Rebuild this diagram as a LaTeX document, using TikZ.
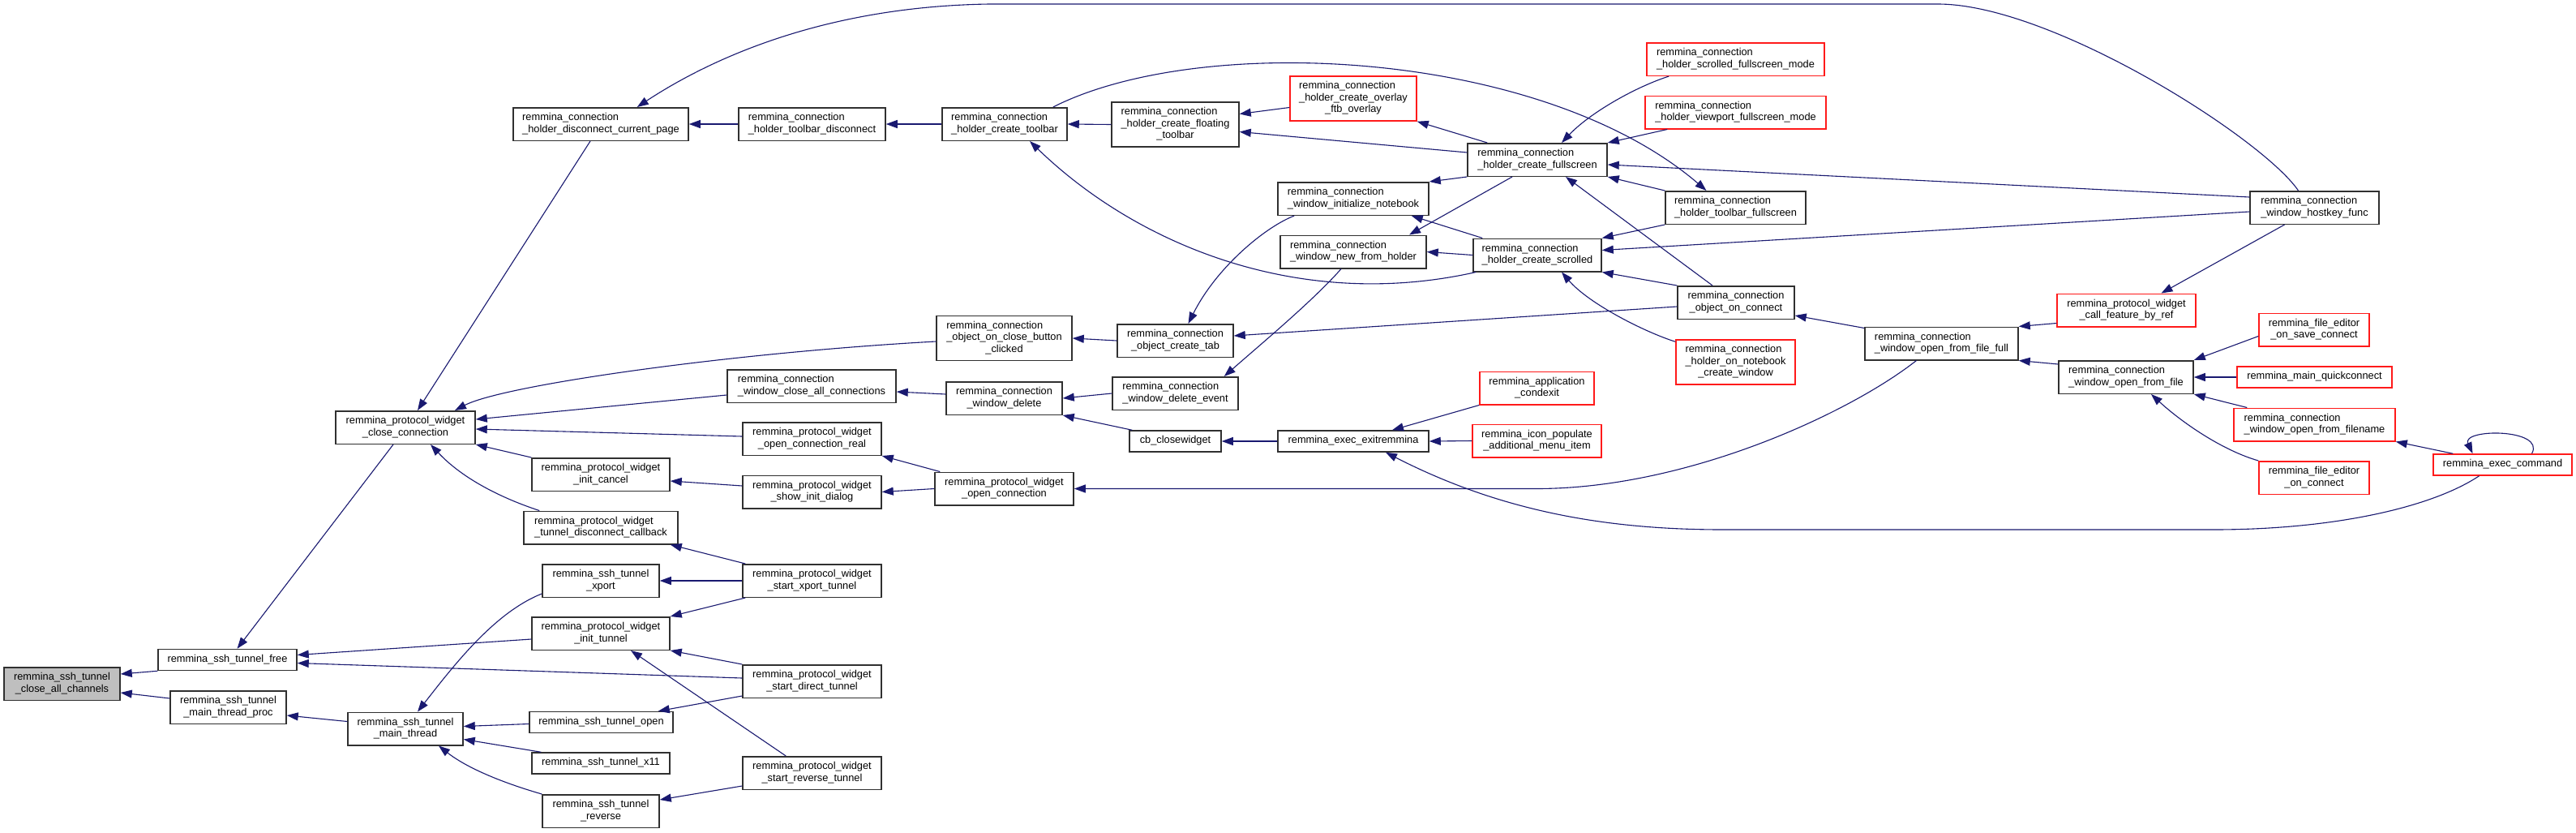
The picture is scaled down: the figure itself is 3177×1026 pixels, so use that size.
\documentclass[tikz,border=0pt]{standalone}
\usepackage{fontspec}
\setmainfont{Liberation Sans}
\usetikzlibrary{arrows.meta}
\definecolor{edgeblue}{HTML}{191970}
\definecolor{boxred}{HTML}{FF1A1A}
\definecolor{boxline}{HTML}{303030}
\definecolor{rootgray}{HTML}{BFBFBF}
\newcommand{\lbli}[1]{\begin{tabular}{@{}c@{}}#1\end{tabular}}
\newcommand{\lblii}[2]{\begin{tabular}{@{}l@{}}#1\\\multicolumn{1}{@{}c@{}}{#2}\end{tabular}}
\newcommand{\lbliii}[3]{\begin{tabular}{@{}l@{}}#1\\#2\\\multicolumn{1}{@{}c@{}}{#3}\end{tabular}}
\tikzset{
 fnbox/.style={draw=boxline, line width=1.5pt, fill=white, inner sep=0pt, font=\fontsize{12.8}{14.5}\selectfont},
 redbox/.style={fnbox, draw=boxred},
 rootbox/.style={fnbox, fill=rootgray},
 hone/.style={minimum height=26pt},
 htwo/.style={minimum height=40.5pt},
 hthree/.style={minimum height=55pt},
 cedge/.style={draw=edgeblue, line width=1.1pt, {Triangle[length=14pt,width=10pt]}-},
}
\begin{document}
\begin{tikzpicture}[x=1pt,y=-1pt]
\fill[white] (0,0) rectangle (3177,1026);
\useasboundingbox (0,0) rectangle (3177,1026);

\node[rootbox,htwo,minimum width=143pt] (root) at (76.5,843) {\lblii{remmina\_ssh\_tunnel}{\_close\_all\_channels}};
\node[fnbox,hone,minimum width=171pt] (free) at (280.5,813.5) {\lbli{remmina\_ssh\_tunnel\_free}};
\node[fnbox,htwo,minimum width=143pt] (mtproc) at (281.5,872) {\lblii{remmina\_ssh\_tunnel}{\_main\_thread\_proc}};
\node[fnbox,htwo,minimum width=172pt] (closeconn) at (500,527) {\lblii{remmina\_protocol\_widget}{\_close\_connection}};
\node[fnbox,htwo,minimum width=142pt] (mthread) at (500,898.5) {\lblii{remmina\_ssh\_tunnel}{\_main\_thread}};
\node[fnbox,htwo,minimum width=216pt] (disccur) at (741,153) {\lblii{remmina\_connection}{\_holder\_disconnect\_current\_page}};
\node[fnbox,htwo,minimum width=170pt] (initcancel) at (741,585) {\lblii{remmina\_protocol\_widget}{\_init\_cancel}};
\node[fnbox,htwo,minimum width=190pt] (tundisc) at (741,650.5) {\lblii{remmina\_protocol\_widget}{\_tunnel\_disconnect\_callback}};
\node[fnbox,htwo,minimum width=144pt] (xport) at (741,716) {\lblii{remmina\_ssh\_tunnel}{\_xport}};
\node[fnbox,htwo,minimum width=170pt] (inittunnel) at (741,781) {\lblii{remmina\_protocol\_widget}{\_init\_tunnel}};
\node[fnbox,hone,minimum width=177pt] (tunopen) at (741.5,890.5) {\lbli{remmina\_ssh\_tunnel\_open}};
\node[fnbox,hone,minimum width=170pt] (tunx11) at (741,941) {\lbli{remmina\_ssh\_tunnel\_x11}};
\node[fnbox,htwo,minimum width=144pt] (tunrev) at (741,1000) {\lblii{remmina\_ssh\_tunnel}{\_reverse}};
\node[fnbox,htwo,minimum width=181pt] (tbdisc) at (1001.5,153) {\lblii{remmina\_connection}{\_holder\_toolbar\_disconnect}};
\node[fnbox,htwo,minimum width=208pt] (closeall) at (1001,476) {\lblii{remmina\_connection}{\_window\_close\_all\_connections}};
\node[fnbox,htwo,minimum width=171pt] (openreal) at (1001.5,541) {\lblii{remmina\_protocol\_widget}{\_open\_connection\_real}};
\node[fnbox,htwo,minimum width=171pt] (showinit) at (1001.5,606.5) {\lblii{remmina\_protocol\_widget}{\_show\_init\_dialog}};
\node[fnbox,htwo,minimum width=171pt] (startx) at (1001.5,716) {\lblii{remmina\_protocol\_widget}{\_start\_xport\_tunnel}};
\node[fnbox,htwo,minimum width=171pt] (startd) at (1001.5,840) {\lblii{remmina\_protocol\_widget}{\_start\_direct\_tunnel}};
\node[fnbox,htwo,minimum width=171pt] (startr) at (1001.5,953) {\lblii{remmina\_protocol\_widget}{\_start\_reverse\_tunnel}};
\node[fnbox,htwo,minimum width=154pt] (ctoolbar) at (1239,153) {\lblii{remmina\_connection}{\_holder\_create\_toolbar}};
\node[fnbox,hthree,minimum width=167pt] (closebtn) at (1238.5,417) {\lbliii{remmina\_connection}{\_object\_on\_close\_button}{\_clicked}};
\node[fnbox,htwo,minimum width=143pt] (wdelete) at (1238.5,491) {\lblii{remmina\_connection}{\_window\_delete}};
\node[fnbox,htwo,minimum width=171pt] (openconn) at (1238.5,602.5) {\lblii{remmina\_protocol\_widget}{\_open\_connection}};
\node[fnbox,hthree,minimum width=157pt] (floating) at (1449.5,153.5) {\lbliii{remmina\_connection}{\_holder\_create\_floating}{\_toolbar}};
\node[fnbox,htwo,minimum width=143pt] (createtab) at (1449.5,420) {\lblii{remmina\_connection}{\_object\_create\_tab}};
\node[fnbox,htwo,minimum width=155pt] (delevent) at (1449.5,485) {\lblii{remmina\_connection}{\_window\_delete\_event}};
\node[fnbox,hone,minimum width=113pt] (cbclose) at (1449.5,544) {\lbli{cb\_closewidget}};
\node[redbox,hthree,minimum width=156pt] (overlay) at (1669,121.5) {\lbliii{remmina\_connection}{\_holder\_create\_overlay}{\_ftb\_overlay}};
\node[fnbox,htwo,minimum width=186pt] (initnb) at (1669,245) {\lblii{remmina\_connection}{\_window\_initialize\_notebook}};
\node[fnbox,htwo,minimum width=180pt] (newholder) at (1669,310.5) {\lblii{remmina\_connection}{\_window\_new\_from\_holder}};
\node[fnbox,hone,minimum width=186pt] (exitrem) at (1669,544) {\lbli{remmina\_exec\_exitremmina}};
\node[fnbox,htwo,minimum width=172pt] (cfull) at (1896,197) {\lblii{remmina\_connection}{\_holder\_create\_fullscreen}};
\node[fnbox,htwo,minimum width=158pt] (cscrolled) at (1896,314.5) {\lblii{remmina\_connection}{\_holder\_create\_scrolled}};
\node[redbox,htwo,minimum width=141pt] (condexit) at (1895.5,478.5) {\lblii{remmina\_application}{\_condexit}};
\node[redbox,htwo,minimum width=159pt] (iconpop) at (1895.5,543.5) {\lblii{remmina\_icon\_populate}{\_additional\_menu\_item}};
\node[redbox,htwo,minimum width=219pt] (scrollfs) at (2140.5,73) {\lblii{remmina\_connection}{\_holder\_scrolled\_fullscreen\_mode}};
\node[redbox,htwo,minimum width=223pt] (viewfs) at (2140.5,138.5) {\lblii{remmina\_connection}{\_holder\_viewport\_fullscreen\_mode}};
\node[fnbox,htwo,minimum width=173pt] (tbfull) at (2140.5,256) {\lblii{remmina\_connection}{\_holder\_toolbar\_fullscreen}};
\node[fnbox,htwo,minimum width=144pt] (onconnect) at (2141,373) {\lblii{remmina\_connection}{\_object\_on\_connect}};
\node[redbox,hthree,minimum width=147pt] (onnotebook) at (2140.5,446.5) {\lbliii{remmina\_connection}{\_holder\_on\_notebook}{\_create\_window}};
\node[fnbox,htwo,minimum width=189pt] (openfull) at (2394.5,423.5) {\lblii{remmina\_connection}{\_window\_open\_from\_file\_full}};
\node[redbox,htwo,minimum width=171pt] (callfeat) at (2622.5,382.5) {\lblii{remmina\_protocol\_widget}{\_call\_feature\_by\_ref}};
\node[fnbox,htwo,minimum width=166pt] (openfile) at (2622,465) {\lblii{remmina\_connection}{\_window\_open\_from\_file}};
\node[fnbox,htwo,minimum width=159pt] (hostkey) at (2854.5,256) {\lblii{remmina\_connection}{\_window\_hostkey\_func}};
\node[redbox,htwo,minimum width=136pt] (saveconn) at (2854,406.5) {\lblii{remmina\_file\_editor}{\_on\_save\_connect}};
\node[redbox,hone,minimum width=191pt] (quick) at (2854.5,465) {\lbli{remmina\_main\_quickconnect}};
\node[redbox,htwo,minimum width=199pt] (openfname) at (2854.5,523.5) {\lblii{remmina\_connection}{\_window\_open\_from\_filename}};
\node[redbox,htwo,minimum width=136pt] (feconnect) at (2854,589) {\lblii{remmina\_file\_editor}{\_on\_connect}};
\node[redbox,hone,minimum width=171pt] (execcmd) at (3086.5,573) {\lbli{remmina\_exec\_command}};

% connectors (arrow tip at the called function)
\draw[cedge] ([yshift=12pt]root.east) -- (free.south west);
\draw[cedge] ([yshift=-11pt]root.east) -- ([yshift=11pt]mtproc.west);
\draw[cedge] ([xshift=12pt]free.north) -- ([xshift=-15pt]closeconn.south);
\draw[cedge] ([yshift=6pt]free.east) -- ([yshift=-7pt]inittunnel.west);
\draw[cedge] ([yshift=-4pt]free.east) -- ([yshift=4pt]startd.west);
\draw[cedge] ([yshift=-10pt]mtproc.east) -- ([yshift=9pt]mthread.west);
\draw[cedge] ([xshift=15pt]closeconn.north) -- ([xshift=-13pt]disccur.south);
\draw[cedge] ([xshift=61pt]closeconn.north) .. controls (620,475) and (900,435) .. ([yshift=-4pt]closebtn.west);
\draw[cedge] ([yshift=10pt]closeconn.east) -- ([yshift=-11pt]closeall.west);
\draw[cedge] ([yshift=-2pt]closeconn.east) -- ([yshift=3pt]openreal.west);
\draw[cedge] (closeconn.south east) -- (initcancel.north west);
\draw[cedge] ([xshift=31pt]closeconn.south) .. controls (575,595) and (630,618) .. ([xshift=20pt]tundisc.north west);
\draw[cedge] (disccur.east) -- (tbdisc.west);
\draw[cedge] ([xshift=-64pt]disccur.north east) .. controls (880,70) and (1020,8) .. (1220,5) -- (2390,5) .. controls (2530,5) and (2790,170) .. ([xshift=-20pt]hostkey.north);
\draw[cedge] (tbdisc.east) -- (ctoolbar.west);
\draw[cedge] (ctoolbar.east) -- (floating.west);
\draw[cedge] ([xshift=-36pt]tbfull.north) .. controls (1900,60) and (1480,40) .. ([xshift=-18pt]ctoolbar.north east);
\draw[cedge] ([xshift=31pt]ctoolbar.south) .. controls (1400,300) and (1600,385) .. ([xshift=4pt]cscrolled.south west);
\draw[cedge] ([yshift=13pt]floating.east) -- ([yshift=-11pt]overlay.west);
\draw[cedge] ([yshift=-9pt]floating.east) -- ([yshift=9pt]cfull.west);
\draw[cedge] (overlay.south east) -- ([xshift=25pt]cfull.north west);
\draw[cedge] ([xshift=30pt]cfull.north) .. controls (1960,140) and (2015,108) .. ([xshift=28pt]scrollfs.south west);
\draw[cedge] (cfull.north east) -- ([xshift=28pt]viewfs.south west);
\draw[cedge] ([yshift=-6pt]cfull.east) -- ([yshift=13pt]hostkey.west);
\draw[cedge] (cfull.south east) -- (tbfull.north west);
\draw[cedge] ([xshift=35pt]cfull.south) -- ([xshift=-29pt]onconnect.north);
\draw[cedge] (initnb.north east) -- (cfull.south west);
\draw[cedge] ([xshift=69pt]newholder.north) -- ([xshift=-31pt]cfull.south);
\draw[cedge] ([xshift=-22pt]initnb.south east) -- ([xshift=12pt]cscrolled.north west);
\draw[cedge] (newholder.east) -- (cscrolled.west);
\draw[cedge] (cscrolled.north east) -- (tbfull.south west);
\draw[cedge] ([yshift=6pt]cscrolled.east) -- ([yshift=-5pt]hostkey.west);
\draw[cedge] (cscrolled.south east) -- (onconnect.north west);
\draw[cedge] ([xshift=30pt]cscrolled.south) .. controls (1960,375) and (2030,410) .. ([yshift=-3pt]onnotebook.north west);
\draw[cedge] ([yshift=5pt]onconnect.south east) -- ([yshift=-2pt]openfull.north west);
\draw[cedge] ([yshift=6pt]createtab.east) -- ([yshift=-5pt]onconnect.west);
\draw[cedge] ([xshift=16pt]createtab.north) .. controls (1500,330) and (1560,280) .. ([xshift=21pt]initnb.south west);
\draw[cedge] ([xshift=-18pt]delevent.north east) .. controls (1560,420) and (1620,370) .. ([xshift=-15pt]newholder.south);
\draw[cedge] (closebtn.east) -- (createtab.west);
\draw[cedge] ([yshift=-7pt]closeall.east) -- ([yshift=5pt]wdelete.west);
\draw[cedge] (wdelete.east) -- (delevent.west);
\draw[cedge] (wdelete.south east) -- ([xshift=4pt]cbclose.north west);
\draw[cedge] (cbclose.east) -- (exitrem.west);
\draw[cedge] ([xshift=48pt]exitrem.north) -- (condexit.south west);
\draw[cedge] (exitrem.east) -- (iconpop.west);
\draw[cedge] ([xshift=40pt]exitrem.south) .. controls (1850,630) and (1980,653) .. (2125,653) -- (2730,653) .. controls (2880,653) and (3000,625) .. ([xshift=-29pt]execcmd.south);
\draw[cedge] (openconn.east) -- (1895,602.5) .. controls (2080,602.5) and (2280,510) .. ([xshift=-31pt]openfull.south);
\draw[cedge] (openreal.south east) -- ([xshift=7pt]openconn.north west);
\draw[cedge] (showinit.east) -- (openconn.west);
\draw[cedge] ([yshift=-8pt]initcancel.east) -- ([yshift=7.5pt]showinit.west);
\draw[cedge] ([xshift=-10pt]tundisc.south east) -- ([xshift=4pt]startx.north west);
\draw[cedge] (xport.east) -- (startx.west);
\draw[cedge] (inittunnel.north east) -- ([xshift=4pt]startx.south west);
\draw[cedge] (inittunnel.south east) -- (startd.north west);
\draw[cedge] ([xshift=-19pt]tunopen.north east) -- ([yshift=3pt]startd.south west);
\draw[cedge] ([xshift=37pt]inittunnel.south) -- ([xshift=54pt]startr.north west);
\draw[cedge] ([yshift=14pt]tunrev.east) -- ([yshift=-16pt]startr.west);
\draw[cedge] ([xshift=15pt]mthread.north) .. controls (560,820) and (610,755) .. ([yshift=-16pt]xport.west);
\draw[cedge] ([yshift=3pt]mthread.east) -- ([yshift=-2pt]tunopen.west);
\draw[cedge] ([yshift=-13pt]mthread.east) -- ([xshift=12pt]tunx11.north west);
\draw[cedge] ([xshift=41pt]mthread.south) .. controls (580,950) and (630,968) .. (tunrev.north west);
\draw[cedge] (openfull.north east) -- ([yshift=-16pt]callfeat.west);
\draw[cedge] ([xshift=43pt]callfeat.north) -- ([xshift=-37pt]hostkey.south);
\draw[cedge] (openfull.south east) -- ([yshift=-5pt]openfile.north west);
\draw[cedge] (openfile.north east) -- ([yshift=-8pt]saveconn.west);
\draw[cedge] (openfile.east) -- (quick.west);
\draw[cedge] (openfile.south east) -- ([xshift=17pt]openfname.north west);
\draw[cedge] ([xshift=31pt]openfile.south) .. controls (2690,520) and (2740,555) .. (feconnect.north west);
\draw[cedge] (openfname.south east) -- ([xshift=25pt]execcmd.north west);
\draw[cedge] ([xshift=-37pt]execcmd.north) .. controls (3035,528) and (3140,528) .. ([xshift=36pt]execcmd.north);
\end{tikzpicture}
\end{document}
